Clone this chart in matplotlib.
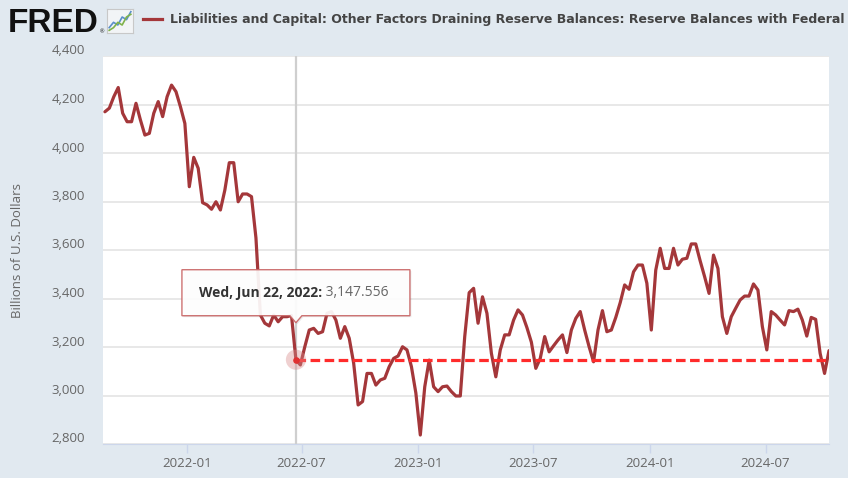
import matplotlib
matplotlib.use("Agg")
import matplotlib.pyplot as plt
import matplotlib.dates as mdates
import matplotlib.transforms as mtransforms
from matplotlib.lines import Line2D
from matplotlib.patches import Polygon
from matplotlib import font_manager
import pandas as pd

# ── Data (weekly, Wednesdays) ────────────────────────────────────────────────
START_DATE = "2021-08-25"
RESERVES = [
    4170, 4185, 4232, 4270, 4164, 4129, 4129, 4205, 4136, 4074,
    4081, 4164, 4212, 4150, 4232, 4280, 4253, 4191, 4122, 3861,
    3982, 3937, 3795, 3786, 3768, 3799, 3765, 3847, 3960, 3960,
    3799, 3831, 3831, 3820, 3650, 3332, 3298, 3287, 3332, 3304,
    3325, 3325, 3330, 3147.556, 3126, 3201, 3270, 3277, 3256, 3263,
    3339, 3346, 3311, 3236, 3284, 3236, 3133, 2961, 2975, 3091,
    3091, 3043, 3064, 3071, 3119, 3153, 3163, 3201, 3188, 3119,
    3010, 2837, 3036, 3146, 3036, 3016, 3036, 3039, 3016, 2998,
    2998, 3243, 3424, 3442, 3298, 3407, 3339, 3174, 3077, 3188,
    3250, 3250, 3311, 3353, 3332, 3280, 3220, 3112, 3153, 3243,
    3180, 3205, 3229, 3250, 3177, 3270, 3318, 3346, 3270, 3201,
    3139, 3270, 3350, 3263, 3270, 3322, 3383, 3456, 3438, 3510,
    3538, 3538, 3463, 3270, 3517, 3607, 3524, 3524, 3607, 3538,
    3562, 3566, 3625, 3625, 3555, 3490, 3421, 3579, 3524, 3325,
    3256, 3325, 3360, 3394, 3410, 3410, 3460, 3435, 3284, 3188,
    3346, 3332, 3311, 3291, 3350, 3346, 3356, 3311, 3245, 3322,
    3314, 3174, 3091, 3185,
]
HOVER_DATE = "2022-06-22"
HOVER_VALUE = 3147.556
HOVER_LABEL = "Wed, Jun 22, 2022:"
HOVER_TEXT = " 3,147.556"

Y_TICKS = [2800, 3000, 3200, 3400, 3600, 3800, 4000, 4200, 4400]
X_TICKS = ["2022-01-01", "2022-07-01", "2023-01-01", "2023-07-01",
           "2024-01-01", "2024-07-01"]
X_RANGE = ["2021-08-22", "2024-10-09"]

TITLE = ("Liabilities and Capital: Other Factors Draining Reserve Balances: "
         "Reserve Balances with Federal")
Y_LABEL = "Billions of U.S. Dollars"

ICON_BLUE = [2, 4, 3, 6, 5, 8]
ICON_GREEN = [1, 2, 4, 3, 6, 7]

# ── Style ────────────────────────────────────────────────────────────────────
BG = "#e1e9f0"
LINE_C = "#a4373a"
DASH_C = "#ff2b2b"
TEXT_C = "#666666"

installed = {f.name for f in font_manager.fontManager.ttflist}
NARROW = ["Liberation Sans Narrow", "DejaVu Sans"] if "Liberation Sans Narrow" in installed \
    else ["DejaVu Sans"]
plt.rcParams["font.family"] = ["Open Sans", "DejaVu Sans"]

dates = pd.date_range(START_DATE, periods=len(RESERVES), freq="7D")
hover = pd.Timestamp(HOVER_DATE)

W, H = 848, 478
fig = plt.figure(figsize=(W / 100, H / 100), dpi=100, facecolor=BG)
ax = fig.add_axes([103 / W, (H - 444) / H, (829 - 103) / W, (444 - 56) / H])
ax.set_facecolor("white")

ax.plot(dates, RESERVES, color=LINE_C, lw=2.3, solid_joinstyle="round",
        solid_capstyle="round", zorder=3)
ax.axvline(hover, color="#cfcfcf", lw=1.6, zorder=1)
ax.plot([hover, dates[-1]], [HOVER_VALUE, HOVER_VALUE], color=DASH_C, lw=2.3,
        dashes=(3.0, 1.4), zorder=4)
ax.scatter([hover], [HOVER_VALUE], s=210, color="#d88a8a", alpha=0.4,
           edgecolors="none", zorder=5)
ax.scatter([hover], [HOVER_VALUE], s=14, color="#e03030", zorder=6)

ax.set_ylim(Y_TICKS[0], Y_TICKS[-1])
ax.set_xlim(pd.Timestamp(X_RANGE[0]), pd.Timestamp(X_RANGE[1]))
ax.set_yticks(Y_TICKS)
ax.set_yticklabels([f"{v:,}" for v in Y_TICKS])
ax.set_xticks([pd.Timestamp(d) for d in X_TICKS])
ax.xaxis.set_major_formatter(mdates.DateFormatter("%Y-%m"))

ax.yaxis.grid(True, color="#e6e6e6", lw=1.3)
ax.set_axisbelow(True)
for s in ["top", "right", "left"]:
    ax.spines[s].set_visible(False)
ax.spines["bottom"].set_color("#ccd6eb")
ax.tick_params(axis="y", length=0, pad=13, labelsize=9.5, labelcolor=TEXT_C)
ax.tick_params(axis="x", length=6.5, width=1, color="#ccd6eb", pad=3,
               labelsize=9.5, labelcolor=TEXT_C)
shift = mtransforms.ScaledTranslation(0, 0.065, fig.dpi_scale_trans)
for lbl in ax.get_yticklabels():
    lbl.set_transform(lbl.get_transform() + shift)

ax.set_ylabel(Y_LABEL, color=TEXT_C, fontsize=9.5)
ax.yaxis.set_label_coords(-0.109, 0.5)

# ── Header: logo, legend dash, title ─────────────────────────────────────────
fig.text(8 / W, 1 - 32 / H, "FRED", fontsize=24, weight="heavy", color="#111111",
         family=["Liberation Sans", "DejaVu Sans"], va="baseline")
fig.text(100 / W, 1 - 33 / H, "®", fontsize=4, color="#111111", va="baseline")
icon = fig.add_axes([107 / W, 1 - 33 / H, 26 / W, 24 / H])
icon.plot(ICON_BLUE, color="#5b8fc9", lw=1.2)
icon.plot(ICON_GREEN, color="#7fb24a", lw=1.2)
icon.set_facecolor("#f2f4f6")
icon.set_xticks([]); icon.set_yticks([])
icon.set_xlim(-0.5, 5.5); icon.set_ylim(0, 9)
for sp in icon.spines.values():
    sp.set_color("#c8c8c8")

fig.add_artist(Line2D([143 / W, 162 / W], [1 - 19 / H, 1 - 19 / H], color=LINE_C,
                      lw=2.3, transform=fig.transFigure))
title = fig.text(170 / W, 1 - 19 / H, TITLE, fontsize=11, weight="bold",
                 color="#444444", family=NARROW, va="center")

renderer = fig.canvas.get_renderer()
tw = title.get_window_extent(renderer).width
title.set_fontsize(11 * 673 / tw)

# ── Tooltip ──────────────────────────────────────────────────────────────────
px, py = ax.transData.transform((mdates.date2num(hover), HOVER_VALUE))
box = [(px - 114, py + 44), (px - 6, py + 44), (px, py + 37), (px + 6, py + 44),
       (px + 114, py + 44), (px + 114, py + 90), (px - 114, py + 90)]
frac = lambda pts, dx=0, dy=0: [((x + dx) / W, (y + dy) / H) for x, y in pts]
fig.add_artist(Polygon(frac(box, 1.5, -1.5), closed=True, facecolor="#000000",
                       alpha=0.08, edgecolor="none", transform=fig.transFigure))
fig.add_artist(Polygon(frac(box), closed=True, facecolor="white", alpha=0.92,
                       edgecolor="#c96666", lw=1.0, transform=fig.transFigure))
t1 = fig.text((px - 97) / W, (py + 67) / H, HOVER_LABEL, fontsize=10, weight="bold",
              color="#333333", va="center")
bb = t1.get_window_extent(renderer)
fig.text(bb.x1 / W, (py + 67) / H, HOVER_TEXT, fontsize=10, color="#666666",
         va="center")

fig.savefig("out.png", dpi=100, facecolor=BG)
